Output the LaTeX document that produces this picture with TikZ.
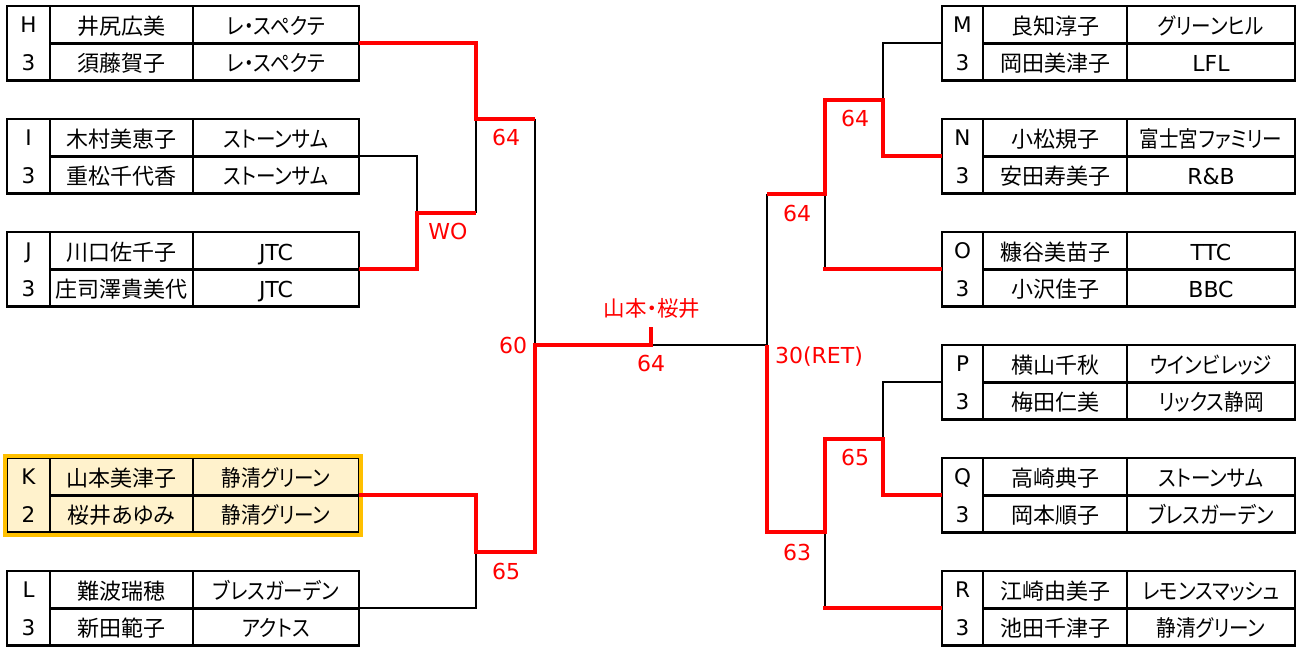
\documentclass[tikz,border=0pt]{standalone}
\usepackage{fontspec}
\setmainfont{Noto Sans CJK JP}[RawFeature={+palt}]
\newfontfamily\lat{DejaVu Sans}
\definecolor{kfill}{HTML}{FFF2CC}
\definecolor{korange}{HTML}{FFC000}
\definecolor{rred}{HTML}{FF0000}
\newcommand\club[1]{\scalebox{0.87}[1]{#1}}
\newcommand\latclub[1]{{\lat\fontsize{22}{24}\selectfont #1}}
\tikzset{
  cell/.style={inner sep=0pt, anchor=base, font=\fontsize{22}{24}\selectfont},
  ccell/.style={inner sep=0pt, anchor=base, font=\fontsize{22.5}{24}\selectfont},
  lcell/.style={inner sep=0pt, anchor=base, font=\lat\fontsize{21.5}{24}\selectfont},
  border/.style={draw=black, line width=2.6pt},
  win/.style={draw=rred, line width=4pt, line join=miter},
  lose/.style={draw=black, line width=2.2pt},
  score/.style={text=rred, inner sep=0pt, anchor=base, font=\lat\fontsize{22}{24}\selectfont},
}
% name, top, letter, num, n1, c1, n2, c2
\newcommand\ltable[8]{%
  \draw[border] (7,#2) rectangle (359,#2+74.8);
  \draw[border] (50,#2) -- (50,#2+74.8);
  \draw[border] (193,#2) -- (193,#2+74.8);
  \draw[border] (50,#2+37.4) -- (359,#2+37.4);
  \node[lcell] (#1-a) at (28.5,#2+27.0) {#3};
  \node[lcell] (#1-b) at (28.5,#2+64.4) {#4};
  \node[cell] (#1-n1) at (121.5,#2+28.4) {#5};
  \node[ccell] (#1-c1) at (276,#2+28.6) {#6};
  \node[cell] (#1-n2) at (121.5,#2+65.8) {#7};
  \node[ccell] (#1-c2) at (276,#2+66.0) {#8};
  \coordinate (#1) at (359,#2+37.4);
}
\newcommand\rtable[8]{%
  \draw[border] (942,#2) rectangle (1295,#2+74.8);
  \draw[border] (983,#2) -- (983,#2+74.8);
  \draw[border] (1127,#2) -- (1127,#2+74.8);
  \draw[border] (983,#2+37.4) -- (1295,#2+37.4);
  \node[lcell] (#1-a) at (962.5,#2+27.0) {#3};
  \node[lcell] (#1-b) at (962.5,#2+64.4) {#4};
  \node[cell] (#1-n1) at (1055,#2+28.4) {#5};
  \node[ccell] (#1-c1) at (1211,#2+28.6) {#6};
  \node[cell] (#1-n2) at (1055,#2+65.8) {#7};
  \node[ccell] (#1-c2) at (1211,#2+66.0) {#8};
  \coordinate (#1) at (942,#2+37.4);
}
\begin{document}
\begin{tikzpicture}[x=1pt,y=-1pt]
\useasboundingbox (0,0) rectangle (1300,646);
\fill[white] (0,0) rectangle (1300,646);

% highlighted K table background
\fill[kfill] (5,455.8) rectangle (361,534.6);

% left tables
\ltable{H}{5.8}{H}{3}{井尻広美}{\club{レ・スペクテ}}{須藤賀子}{\club{レ・スペクテ}}
\ltable{I}{118.8}{I}{3}{木村美恵子}{\club{ストーンサム}}{重松千代香}{\club{ストーンサム}}
\ltable{J}{231.8}{J}{3}{川口佐千子}{\latclub{JTC}}{庄司澤貴美代}{\latclub{JTC}}
\ltable{K}{457.8}{K}{2}{山本美津子}{\club{静清グリーン}}{桜井あゆみ}{\club{静清グリーン}}
\ltable{L}{570.8}{L}{3}{難波瑞穂}{\club{ブレスガーデン}}{新田範子}{\club{アクトス}}
\draw[draw=korange, line width=4pt] (5,455.8) rectangle (361,534.6);

% right tables
\rtable{M}{5.8}{M}{3}{良知淳子}{\club{グリーンヒル}}{岡田美津子}{\latclub{LFL}}
\rtable{N}{118.8}{N}{3}{小松規子}{\club{富士宮ファミリー}}{安田寿美子}{\latclub{R\&B}}
\rtable{O}{231.8}{O}{3}{糠谷美苗子}{\latclub{TTC}}{小沢佳子}{\latclub{BBC}}
\rtable{P}{344.8}{P}{3}{横山千秋}{\club{ウインビレッジ}}{梅田仁美}{\club{リックス静岡}}
\rtable{Q}{457.8}{Q}{3}{高崎典子}{\club{ストーンサム}}{岡本順子}{\club{ブレスガーデン}}
\rtable{R}{570.8}{R}{3}{江崎由美子}{\club{レモンスマッシュ}}{池田千津子}{\club{静清グリーン}}

% junction coordinates
\coordinate (hi) at (476,118.5);
\coordinate (hiR) at (535,118.5);
\coordinate (ij) at (417,212.7);
\coordinate (ijR) at (476,212.7);
\coordinate (kl) at (476,551.7);
\coordinate (klR) at (535,551.7);
\coordinate (cl) at (535,345);
\coordinate (cm) at (651,345);
\coordinate (cmT) at (651,327);
\coordinate (cr) at (767,345);
\coordinate (ru) at (767,194);
\coordinate (ruR) at (825,194);
\coordinate (mn) at (825,99.7);
\coordinate (mnR) at (883,99.7);
\coordinate (rl) at (767,532);
\coordinate (rlR) at (825,532);
\coordinate (pq) at (825,438.7);
\coordinate (pqR) at (883,438.7);

% black (losing) lines
\draw[lose] (I) -| (ij);
\draw[lose] (ijR) -- (hi);
\draw[lose] (hiR) -- (cl);
\draw[lose] (L) -| (kl);
\draw[lose] (cm) -- (cr);
\draw[lose] (cr) -- (ru);
\draw[lose] (M) -| (mnR);
\draw[lose] (ruR) |- (O);
\draw[lose] (P) -| (pqR);
\draw[lose] (rlR) |- (R);

% red (winning) lines
\draw[win] (H) -| (hi) -- (hiR);
\draw[win] (J) -| (ij) -- (ijR);
\draw[win] (K) -| (kl) -- (klR) -- (cl) -- (cm) -- (cmT);
\draw[win] (cr) -- (rl) -- (rlR) -- (pq) -- (pqR) |- (Q);
\draw[win] (ru) -- (ruR) -- (mn) -- (mnR) |- (N);
\draw[win] ([xshift=-2pt]O -| ruR) -- (O);
\draw[win] ([xshift=-2pt]R -| rlR) -- (R);

% score labels
\node[score] (s1) at (506,145) {64};
\node[score] (s2) at (448,239) {WO};
\node[score] (s3) at (513,353) {60};
\node[score] (s4) at (506,579) {65};
\node[score, font=\fontsize{21.5}{24}\selectfont] (s5) at (652,316) {山本・桜井};
\node[score] (s6) at (651,371) {64};
\node[score] (s7) at (819,363) {30(RET)};
\node[score] (s8) at (855,126) {64};
\node[score] (s9) at (797,221) {64};
\node[score] (s10) at (855,465) {65};
\node[score] (s11) at (797,560) {63};
\end{tikzpicture}
\end{document}
